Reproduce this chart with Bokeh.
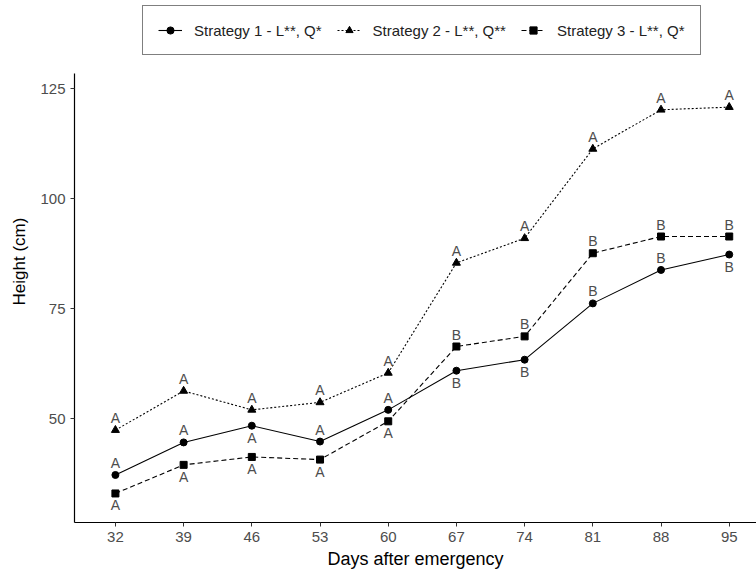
from bokeh.plotting import figure
from bokeh.models import ColumnDataSource, Legend, LegendItem, FixedTicker, Range1d
from bokeh.core.properties import value
from bokeh.embed import file_html
from bokeh.resources import INLINE

days = [32, 39, 46, 53, 60, 67, 74, 81, 88, 95]

s1_height = [37.2, 44.6, 48.4, 44.8, 52.0, 60.9, 63.4, 76.2, 83.8, 87.3]
s2_height = [47.4, 56.3, 52.0, 53.7, 60.4, 85.4, 91.0, 111.3, 120.2, 120.8]
s3_height = [33.0, 39.5, 41.3, 40.7, 49.4, 66.4, 68.7, 87.6, 91.4, 91.4]

s1_letters = ["A", "A", "A", "A", "A", "B", "B", "B", "B", "B"]
s2_letters = ["A", "A", "A", "A", "A", "A", "A", "A", "A", "A"]
s3_letters = ["A", "A", "A", "A", "A", "B", "B", "B", "B", "B"]

# +1 = label above the point, -1 = below
s1_side = [1, 1, -1, 1, 1, -1, -1, 1, 1, -1]
s2_side = [1] * 10
s3_side = [-1, -1, -1, -1, -1, 1, 1, 1, 1, 1]

names = ["Strategy 1 - L**, Q*", "Strategy 2 - L**, Q**", "Strategy 3 - L**, Q*"]

FONT = "Liberation Sans"
GREY = "#4d4d4d"

Y_LO, Y_HI = 26.4, 128.4
# frame spans the full height above the x axis; the legend sits in the top band
p = figure(width=756, height=573, output_backend="svg", toolbar_location=None,
           x_range=Range1d(27.8, 97.8), y_range=Range1d(Y_LO, Y_LO + 522 / 4.4),
           min_border_left=74, min_border_right=0, min_border_top=0,
           min_border_bottom=51)
p.outline_line_color = None
p.xgrid.grid_line_color = None
p.ygrid.grid_line_color = None
p.background_fill_color = "white"
p.border_fill_color = "white"

for ax in (p.xaxis[0], p.yaxis[0]):
    ax.axis_line_color = "black"
    ax.axis_line_width = 1.2
    ax.major_tick_line_color = "#333333"
    ax.major_tick_in = 0
    ax.major_tick_out = 4
    ax.minor_tick_line_color = None
    ax.major_label_text_font = FONT
    ax.major_label_text_font_size = "15px"
    ax.major_label_text_color = GREY
    ax.axis_label_text_font = FONT
    ax.axis_label_text_font_style = "normal"
    ax.axis_label_text_color = "black"

p.yaxis.bounds = (Y_LO, Y_HI)
p.xaxis.axis_label_text_font_size = "18px"
p.yaxis.axis_label_text_font_size = "17px"
p.xaxis.ticker = FixedTicker(ticks=days)
p.yaxis.ticker = FixedTicker(ticks=[50, 75, 100, 125])
p.xaxis.axis_label = "Days after emergency"
p.yaxis.axis_label = "Height (cm)"
p.xaxis.major_label_standoff = 5
p.yaxis.major_label_standoff = 5
p.xaxis.axis_label_standoff = 4
p.yaxis.axis_label_standoff = 8

series = [
    (s1_height, s1_letters, s1_side, "solid", "circle", 7),
    (s2_height, s2_letters, s2_side, "2 2", "triangle", 8),
    (s3_height, s3_letters, s3_side, "5 3", "square", 7),
]

items = []
for (h, letters, side, dash, marker, msize), name in zip(series, names):
    src = ColumnDataSource(dict(x=days, y=h, lab=letters,
                                off=[-12 * s for s in side]))
    r_line = p.line("x", "y", source=src, line_color="black", line_width=1.1,
                    line_dash=dash)
    r_pt = p.scatter("x", "y", source=src, marker=marker, size=msize,
                     fill_color="black", line_color="black")
    p.text("x", "y", text="lab", source=src, y_offset="off",
           text_align="center", text_baseline="middle",
           text_font=value(FONT), text_font_size="14px", text_color=GREY)
    items.append(LegendItem(label=name, renderers=[r_line, r_pt]))

legend = Legend(items=items, orientation="horizontal", location=(142 - 74, 467))
legend.border_line_color = "black"
legend.border_line_width = 1.3
legend.background_fill_color = "white"
legend.background_fill_alpha = 1
legend.label_text_font = FONT
legend.label_text_font_size = "15px"
legend.label_text_color = "#222222"
legend.glyph_width = 24
legend.glyph_height = 18
legend.label_height = 18
legend.spacing = 15
legend.padding = 15
legend.margin = 0
legend.label_standoff = 12
p.add_layout(legend, "center")

open("out.html", "w").write(file_html(p, INLINE))
